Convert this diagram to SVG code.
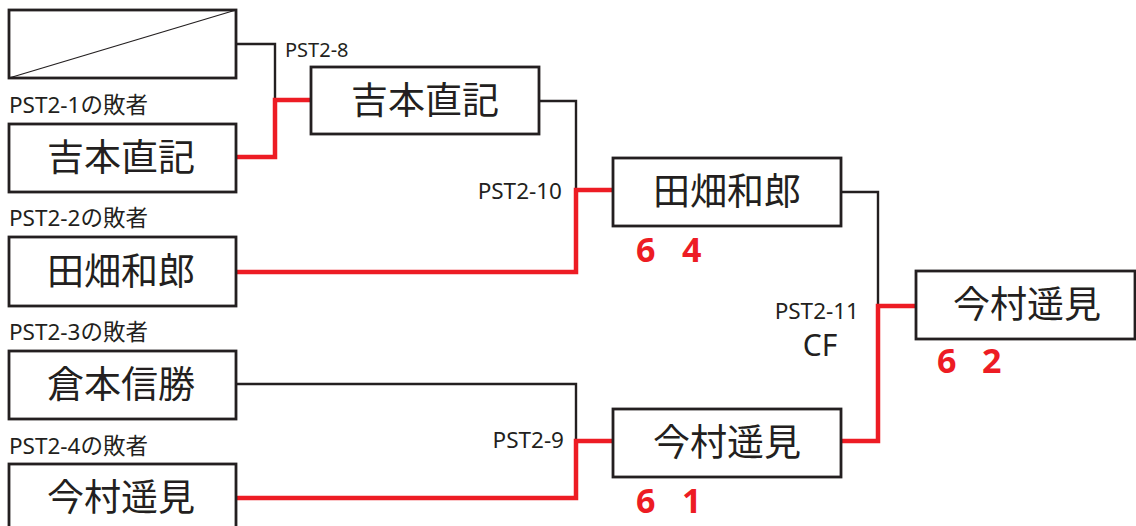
<svg xmlns="http://www.w3.org/2000/svg" width="1136" height="526" viewBox="0 0 1136 526">
<style>
.box{fill:#fff;stroke:#231f20;stroke-width:2.8}
.name{font-family:"Noto Sans CJK JP","Noto Sans",sans-serif;font-size:37px;fill:#231f20;text-anchor:middle}
.lbl{font-family:"Noto Sans","Noto Sans CJK JP",sans-serif;font-size:22.5px;fill:#231f20}
.end{text-anchor:end}
.score{font-family:"Noto Sans",sans-serif;font-weight:bold;font-size:34px;fill:#ed1c24}
.bl{fill:none;stroke:#231f20;stroke-width:2.4}
.rd{fill:none;stroke:#ed1c24;stroke-width:4.5}
</style>
<rect width="1136" height="526" fill="#fff"/>
<g id="connectors">
<path class="bl" d="M236,44H275V100"/>
<path class="rd" d="M236,157H275V100H311"/>
<path class="bl" d="M539,101H576V190"/>
<path class="rd" d="M236,272H576V190H613"/>
<path class="bl" d="M236,384H576V441"/>
<path class="rd" d="M236,498H576V441H613"/>
<path class="bl" d="M841,192H878V306"/>
<path class="rd" d="M841,441H878V306H916"/>
</g>
<g id="bye">
<rect class="box" x="9" y="10" width="227" height="68"/>
<line x1="9" y1="78" x2="236" y2="10" stroke="#231f20" stroke-width="1.3"/>
</g>
<g id="p1">
<text class="lbl" x="9" y="113">PST2-1の敗者</text>
<rect class="box" x="9" y="124" width="227" height="68"/>
<text class="name" x="121" y="171">吉本直記</text>
</g>
<g id="p2">
<text class="lbl" x="9" y="226">PST2-2の敗者</text>
<rect class="box" x="9" y="237" width="227" height="69"/>
<text class="name" x="121" y="284.5">田畑和郎</text>
</g>
<g id="p3">
<text class="lbl" x="9" y="340">PST2-3の敗者</text>
<rect class="box" x="9" y="351" width="227" height="68"/>
<text class="name" x="121" y="398">倉本信勝</text>
</g>
<g id="p4">
<text class="lbl" x="9" y="454">PST2-4の敗者</text>
<rect class="box" x="9" y="464" width="227" height="68"/>
<text class="name" x="121" y="511">今村遥見</text>
</g>
<g id="m8">
<text class="lbl" x="285" y="57" style="font-size:20px">PST2-8</text>
<rect class="box" x="311" y="67" width="228" height="67"/>
<text class="name" x="425" y="113.5">吉本直記</text>
</g>
<g id="m10">
<text class="lbl end" x="562" y="199">PST2-10</text>
<rect class="box" x="613" y="158" width="228" height="68"/>
<text class="name" x="727" y="205">田畑和郎</text>
<text class="score" x="636" y="262">6</text>
<text class="score" x="682" y="262">4</text>
</g>
<g id="m9">
<text class="lbl end" x="564" y="448">PST2-9</text>
<rect class="box" x="613" y="409" width="228" height="68"/>
<text class="name" x="727" y="456">今村遥見</text>
<text class="score" x="636" y="513">6</text>
<text class="score" x="682" y="513">1</text>
</g>
<g id="m11">
<text class="lbl end" x="859" y="319">PST2-11</text>
<text class="lbl" x="820" y="356" style="font-size:30px;text-anchor:middle">CF</text>
<rect class="box" x="916" y="271" width="219" height="68"/>
<text class="name" x="1027" y="318">今村遥見</text>
<text class="score" x="937" y="373">6</text>
<text class="score" x="982" y="373">2</text>
</g>
</svg>
